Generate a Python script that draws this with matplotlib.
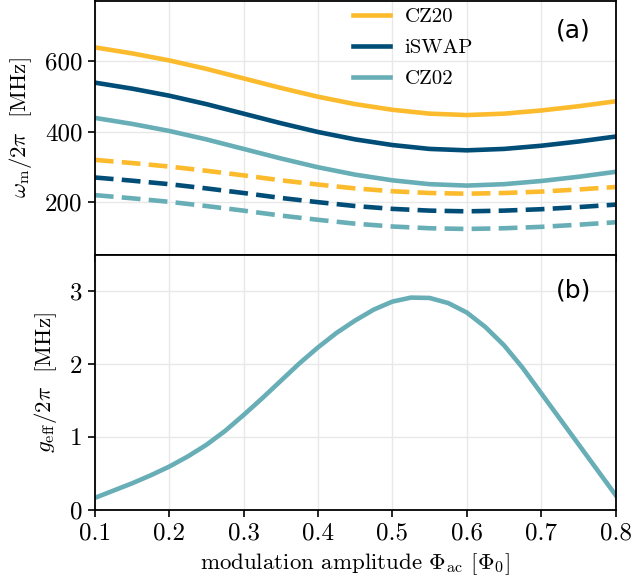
import numpy as np
import matplotlib
matplotlib.use("Agg")
import matplotlib.pyplot as plt

# modulation amplitude grid (in units of flux quantum)
phi_ac = [0.10, 0.15, 0.20, 0.25, 0.30, 0.35, 0.40, 0.45,
          0.50, 0.55, 0.60, 0.65, 0.70, 0.75, 0.80]

# modulation frequencies [MHz], solid = first harmonic
cz20 = [639, 622, 602, 578, 551, 524, 499, 478, 462, 451, 447, 451, 460, 472, 486]
iswap = [539, 522, 502, 478, 451, 424, 399, 378, 362, 351, 347, 351, 360, 372, 386]
cz02 = [439, 422, 402, 378, 351, 324, 299, 278, 262, 251, 247, 251, 260, 272, 286]

# dashed = second harmonic drive
cz20_h2 = [320, 311, 301, 289, 276, 262, 250, 239, 231, 226, 224, 226, 230, 236, 243]
iswap_h2 = [270, 261, 251, 239, 226, 212, 200, 189, 181, 176, 174, 176, 180, 186, 193]
cz02_h2 = [220, 211, 201, 189, 176, 162, 150, 139, 131, 126, 124, 126, 130, 136, 143]

# effective coupling [MHz]
phi_g = [0.100, 0.125, 0.150, 0.175, 0.200, 0.225, 0.250, 0.275, 0.300, 0.325,
         0.350, 0.375, 0.400, 0.425, 0.450, 0.475, 0.500, 0.525, 0.550, 0.575,
         0.600, 0.625, 0.650, 0.675, 0.700, 0.725, 0.750, 0.775, 0.800]
g_eff = [0.16, 0.26, 0.36, 0.47, 0.59, 0.73, 0.89, 1.08, 1.30, 1.53,
         1.77, 2.01, 2.23, 2.43, 2.60, 2.75, 2.86, 2.915, 2.91, 2.84,
         2.71, 2.51, 2.26, 1.95, 1.60, 1.25, 0.90, 0.55, 0.20]

yellow = "#fbbb2c"
navy = "#004d78"
teal = "#68aeb6"

plt.rcParams["font.family"] = ["cmr10", "DejaVu Serif"]
plt.rcParams["mathtext.fontset"] = "cm"
plt.rcParams["font.size"] = 16.5

fig = plt.figure(figsize=(6.32, 5.85), dpi=100)
ax1 = fig.add_axes([0.150, 0.564, 0.824, 0.434])
ax2 = fig.add_axes([0.150, 0.129, 0.824, 0.435], sharex=ax1)

lw = 3.3
dash = (4.1, 1.8)
ax1.plot(phi_ac, cz20, color=yellow, lw=lw, label="CZ20")
ax1.plot(phi_ac, iswap, color=navy, lw=lw, label="iSWAP")
ax1.plot(phi_ac, cz02, color=teal, lw=lw, label="CZ02")
ax1.plot(phi_ac, cz20_h2, color=yellow, lw=lw, dashes=dash)
ax1.plot(phi_ac, iswap_h2, color=navy, lw=lw, dashes=dash)
ax1.plot(phi_ac, cz02_h2, color=teal, lw=lw, dashes=dash)

ax2.plot(phi_g, g_eff, color=teal, lw=lw)

ax1.set_xlim(0.1, 0.8)
ax1.set_ylim(50, 770)
ax1.set_yticks([200, 400, 600])
ax2.set_ylim(0, 3.5)
ax2.set_yticks([0, 1, 2, 3])
ax2.set_xticks([0.1, 0.2, 0.3, 0.4, 0.5, 0.6, 0.7, 0.8])
ax2.set_xticklabels(["0.1", "0.2", "0.3", "0.4", "0.5", "0.6", "0.7", "0.8"])
ax1.set_yticklabels(["200", "400", "600"])
ax2.set_yticklabels(["0", "1", "2", "3"])
ax1.tick_params(labelbottom=False)

for ax in (ax1, ax2):
    ax.grid(True, color="#e8e8e8", lw=1.0)
    ax.set_axisbelow(True)
    ax.tick_params(direction="out", length=5, width=1.2, pad=4, labelsize=18)
    for s in ax.spines.values():
        s.set_linewidth(1.3)

ax1.set_ylabel(r"$\omega_\mathrm{m}/2\pi$  [MHz]", labelpad=8)
ax2.set_ylabel(r"$g_\mathrm{eff}/2\pi$  [MHz]", labelpad=8)
ax2.set_xlabel(r"modulation amplitude $\Phi_\mathrm{ac}$ [$\Phi_0$]", labelpad=5)

ax1.legend(loc="upper left", bbox_to_anchor=(0.495, 0.975), frameon=False,
           handlelength=1.8, handletextpad=0.7, labelspacing=0.6,
           borderpad=0, borderaxespad=0, fontsize=15)

ax1.text(0.919, 0.886, "(a)", transform=ax1.transAxes, ha="center", va="center",
         family="DejaVu Sans", fontsize=18)
ax2.text(0.919, 0.862, "(b)", transform=ax2.transAxes, ha="center", va="center",
         family="DejaVu Sans", fontsize=18)

fig.savefig("out.png", dpi=100)
